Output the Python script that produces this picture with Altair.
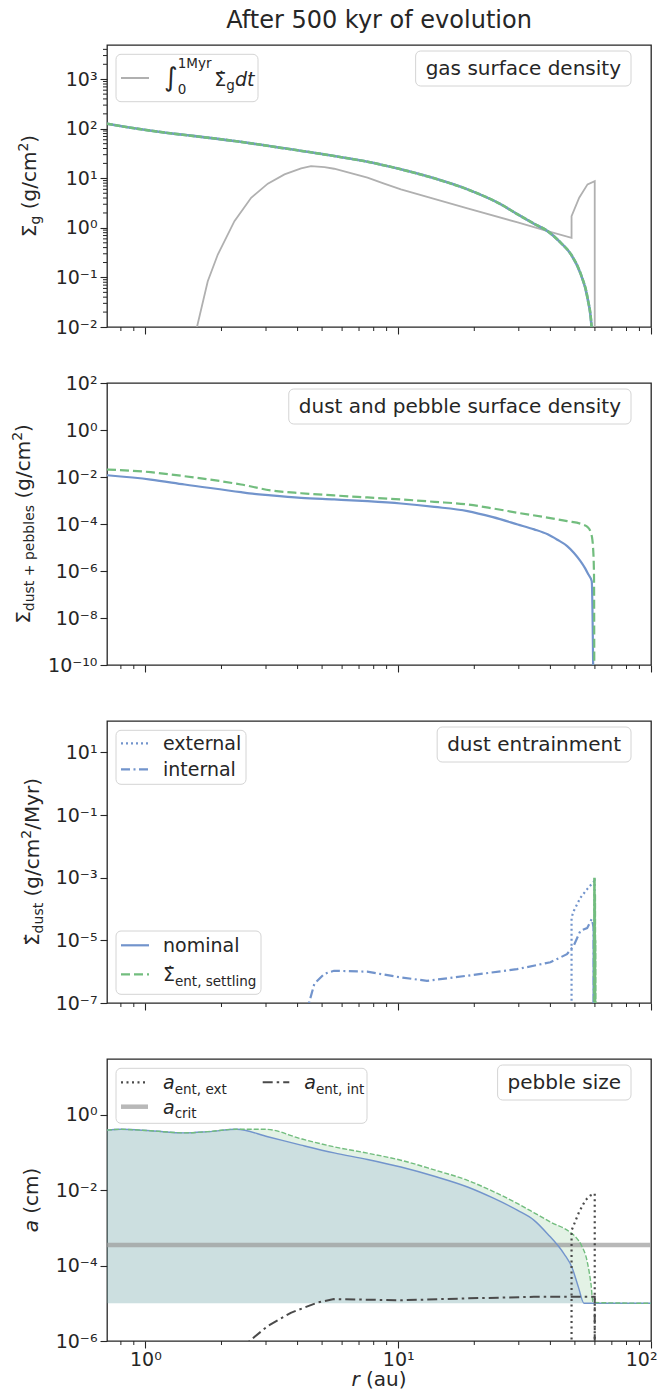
import math
import altair as alt
import pandas as pd

FONT = "DejaVu Sans"
DARK = "#262626"
BLUE = "#7294cc"
GREEN = "#72bd7e"
GREY = "#b0b0b0"
CRIT = "#9a9a9a"
ENT = "#4a4a4a"
W, H = 544, 282
R_DOMAIN = [0.705, 100.0]

# ---------------- data ----------------
# panel 1: gas surface density (g/cm^2)
gas_r = [0.705, 0.905, 1.226, 1.47, 2.25, 3.55, 5.58, 7.56, 10.25, 13.9, 18.8, 25.5,
         29.7, 34.5, 39.0, 44.0, 48.3, 52.8, 56.1, 58.2, 59.5]
gas_sigma = [126.8, 102.3, 82.2, 73.8, 56.6, 40.3, 28.2, 21.6, 15.2, 9.98, 5.98, 2.98,
             1.87, 1.21, 0.859, 0.499, 0.290, 0.115, 0.0385, 0.0100, 1e-4]
int_r = [1.5, 1.6, 1.765, 1.934, 2.25, 2.62, 3.05, 3.55, 4.13, 4.52, 5.11, 5.58, 7.56,
         8.8, 10.25, 18.8, 29.7, 39.0, 48.5, 48.5, 52.0, 56.1, 59.9, 59.9]
int_sigma = [1e-3, 0.010, 0.084, 0.29, 1.37, 4.05, 7.8, 12.0, 15.9, 17.7, 16.9, 15.6, 10.3,
             7.8, 6.0, 2.47, 1.29, 0.86, 0.63, 1.73, 4.05, 7.55, 8.8, 1e-4]

# panel 2: dust + pebble surface density
dust_r = [0.705, 1.05, 1.43, 2.39, 2.58, 3.14, 4.13, 5.58, 7.56, 10.25, 13.9, 18.8, 23.7,
          29.7, 34.5, 39.0, 42.6, 46.6, 49.5, 52.6, 54.9, 56.5, 58.3, 59.3]
dust_nom = [1.19e-2, 7.8e-3, 4.8e-3, 2.26e-3, 2.0e-3, 1.64e-3, 1.3e-3, 1.107e-3, 9.33e-4,
            7.46e-4, 5.37e-4, 3.55e-4, 1.95e-4, 9.55e-5, 5.89e-5, 3.63e-5, 2.14e-5,
            1.15e-5, 6.0e-6, 2.63e-6, 1.29e-6, 7.2e-7, 3.7e-7, 1e-12]
dust_set_r = [0.705, 1.05, 1.43, 2.39, 3.14, 4.13, 5.58, 7.56, 10.25, 13.9, 18.8, 23.7,
              29.7, 37.3, 46.6, 53.6, 56.5, 57.8, 58.6, 59.0, 59.5, 59.7]
dust_set = [2.09e-2, 1.6e-2, 1.08e-2, 4.8e-3, 2.7e-3, 2.04e-3, 1.64e-3, 1.35e-3, 1.11e-3,
            8.8e-4, 6.8e-4, 4.6e-4, 2.99e-4, 2.02e-4, 1.32e-4, 9.6e-5, 6.9e-5, 4.3e-5,
            2.2e-5, 9.8e-6, 7.2e-7, 1e-12]

# panel 3: dust entrainment rate
ent_int_r = [4.3, 4.66, 5.1, 5.57, 7.54, 10.2, 13.0, 18.7, 29.5, 40.0, 46.5, 49.5, 52.6,
             55.9, 58.3, 59.3, 59.5]
ent_int = [4e-8, 4.1e-7, 8.5e-7, 1.07e-6, 1.0e-6, 6.6e-7, 5.1e-7, 7.4e-7, 1.2e-6, 2.0e-6,
           3.6e-6, 6.8e-6, 2.04e-5, 2.45e-5, 4.8e-5, 2.6e-5, 1e-9]
ent_ext_r = [48.5, 48.5, 49.5, 52.6, 55.9, 59.0, 59.8, 59.8]
ent_ext = [1e-9, 5.4e-5, 8.7e-5, 2.3e-4, 4.3e-4, 7.1e-4, 7.9e-4, 1e-9]
ent_set_r = [59.6, 59.75, 59.85, 59.95, 60.05, 60.15, 60.3]
ent_set = [1e-9, 1.0e-3, 1e-6, 3e-4, 1e-7, 1e-5, 1e-9]
ent_nom_r = [59.2, 59.35, 59.5]
ent_nom = [1e-9, 3.5e-5, 1e-9]

# panel 4: pebble size (cm)
amax_nom_r = [0.705, 0.80, 1.05, 1.43, 1.765, 2.3, 3.05, 4.13, 5.58, 7.56, 10.25, 13.9,
              18.8, 23.7, 29.7, 34.5, 39.0, 45.3, 48.7, 51.7, 54.3, 100.0]
amax_nom = [0.39, 0.41, 0.375, 0.33, 0.355, 0.41, 0.26, 0.156, 9.7e-2, 6.5e-2, 4.1e-2,
            2.33e-2, 1.21e-2, 6.2e-3, 2.9e-3, 1.58e-3, 6.9e-4, 2.04e-4, 8.9e-5, 2.6e-5,
            1e-5, 1e-5]
amax_set_r = [0.705, 0.80, 1.05, 1.43, 1.765, 2.25, 3.0, 4.13, 5.58, 7.56, 10.25, 13.9,
              18.8, 23.7, 29.7, 34.5, 40.2, 47.9, 50.5, 53.0, 55.9, 57.9, 59.0, 100.0]
amax_set = [0.39, 0.41, 0.375, 0.33, 0.355, 0.41, 0.41, 0.23, 0.1406, 0.0955, 0.0622,
            0.0344, 0.01824, 9.3e-3, 4.37e-3, 2.51e-3, 1.41e-3, 7.66e-4, 5.6e-4, 3.5e-4,
            1.3e-4, 3.2e-5, 1.05e-5, 1e-5]
a_min = 1e-5
a_crit = 3.5e-4
aint_r = [2.45, 2.58, 3.05, 3.76, 4.8, 5.57, 10.2, 18.7, 34.4, 53.6, 59.9, 59.9]
aint = [4e-7, 1e-6, 2.5e-6, 5.6e-6, 1.05e-5, 1.29e-5, 1.2e-5, 1.35e-5, 1.48e-5, 1.48e-5,
        1.48e-5, 1e-8]
aext_r = [48.5, 48.5, 51.9, 55.0, 57.6, 59.9, 59.9]
aext = [1e-8, 8.5e-4, 2.6e-3, 5.4e-3, 7.2e-3, 8.1e-3, 1e-8]

# ticks
x_major = [1, 10, 100]
x_minor = [0.8, 0.9, 2, 3, 4, 5, 6, 7, 8, 9, 20, 30, 40, 50, 60, 70, 80, 90]
p1_ticks = [1e-2, 1e-1, 1e0, 1e1, 1e2, 1e3]
p1_minor = [2e-2, 3e-2, 4e-2, 5e-2, 6e-2, 7e-2, 8e-2, 9e-2,
            0.2, 0.3, 0.4, 0.5, 0.6, 0.7, 0.8, 0.9,
            2, 3, 4, 5, 6, 7, 8, 9,
            20, 30, 40, 50, 60, 70, 80, 90,
            200, 300, 400, 500, 600, 700, 800, 900,
            2000, 3000, 4000]
p2_ticks = [1e-10, 1e-8, 1e-6, 1e-4, 1e-2, 1e0, 1e2]
p3_ticks = [1e-7, 1e-5, 1e-3, 1e-1, 1e1]
p4_ticks = [1e-6, 1e-4, 1e-2, 1e0]
P1_DOM = [1e-2, 4900]
P2_DOM = [1e-10, 1e2]
P3_DOM = [1e-7, 1e2]
P4_DOM = [1e-6, 30]

# ---------------- helpers ----------------
ONE = pd.DataFrame({"k": [0]})
SUP = {"-": "\u207b", "0": "\u2070", "1": "\u00b9", "2": "\u00b2", "3": "\u00b3",
       "4": "\u2074", "5": "\u2075", "6": "\u2076", "7": "\u2077", "8": "\u2078", "9": "\u2079"}


def sup(n):
    return "".join(SUP[c] for c in str(n))


def label_expr(ticks):
    parts = []
    for t in ticks:
        e = int(round(math.log10(t)))
        parts.append(f"round(log(datum.value)/LN10) == {e} ? '10{sup(e)}'")
    return " : ".join(parts) + " : ''"


def xenc(bottom):
    return alt.X("r:Q", scale=alt.Scale(type="log", domain=R_DOMAIN, nice=False),
                 axis=alt.Axis(values=x_major, labels=bottom, labelExpr=label_expr(x_major),
                               title=None, grid=False, domain=False, tickSize=7,
                               tickColor=DARK, tickWidth=1.1, labelFont=FONT,
                               labelFontSize=19, labelColor=DARK, labelPadding=2,
                               labelFlush=True, labelFlushOffset=6))


def yenc(dom, ticks):
    return alt.Y("v:Q", scale=alt.Scale(type="log", domain=dom, nice=False),
                 axis=alt.Axis(values=ticks, labelExpr=label_expr(ticks), title=None,
                               grid=False, domain=False, tickSize=7, tickColor=DARK,
                               tickWidth=1.1, labelFont=FONT, labelFontSize=19,
                               labelColor=DARK, labelPadding=3))


ADV = {" ": 0.318, "(": 0.390, ")": 0.390, "/": 0.337, "+": 0.838, ",": 0.318,
       "a": 0.613, "b": 0.635, "c": 0.550, "d": 0.635, "e": 0.615, "f": 0.352,
       "g": 0.635, "h": 0.634, "i": 0.278, "k": 0.579, "l": 0.278, "m": 0.974,
       "n": 0.634, "o": 0.612, "p": 0.635, "r": 0.411, "s": 0.521, "t": 0.392,
       "u": 0.634, "v": 0.592, "x": 0.592, "y": 0.592, "z": 0.525, "M": 0.863,
       "A": 0.684, "\u03a3": 0.632, "\u222b": 0.52, "\u0307": 0.0}


def tw(s, size):
    return sum(ADV.get(c, 0.636) for c in s) * size


class Panel:
    def __init__(self, dom, ticks, bottom=False):
        self.dom, self.ticks, self.bottom = dom, ticks, bottom
        self.layers = []

    def line(self, r, v, color, width, dash=None, opacity=1.0, smooth=False):
        df = pd.DataFrame({"r": r, "v": v, "i": list(range(len(r)))})
        kw = dict(color=color, strokeWidth=width, clip=True, opacity=opacity)
        if dash:
            kw["strokeDash"] = dash
        if smooth:
            kw["interpolate"] = "monotone"
        self.layers.append(alt.Chart(df).mark_line(**kw).encode(
            x=xenc(self.bottom), y=yenc(self.dom, self.ticks), order=alt.Order("i:Q")))

    def area(self, r, v, base, color, opacity):
        df = pd.DataFrame({"r": r, "v": v})
        self.layers.append(alt.Chart(df).mark_area(
            color=color, opacity=opacity, clip=True, interpolate="monotone").encode(
            x=xenc(self.bottom), y=yenc(self.dom, self.ticks), y2=alt.datum(base)))

    def xminor(self):
        df = pd.DataFrame({"r": x_minor})
        self.layers.append(alt.Chart(df).mark_rule(color=DARK, strokeWidth=1.0).encode(
            x=xenc(self.bottom), y=alt.value(H), y2=alt.value(H + 4)))

    def yminor(self, vals):
        df = pd.DataFrame({"v": vals})
        self.layers.append(alt.Chart(df).mark_rule(color=DARK, strokeWidth=1.0).encode(
            y=yenc(self.dom, self.ticks), x=alt.value(-4), x2=alt.value(0)))

    def text(self, s, x, y, size, align="left", angle=0, style="normal", color=DARK):
        self.layers.append(alt.Chart(ONE).mark_text(
            text=s, font=FONT, fontSize=size, align=align, baseline="alphabetic",
            angle=angle, fontStyle=style, color=color).encode(x=alt.value(x), y=alt.value(y)))

    def hrun(self, pieces, x, base_y):
        for t, s, d, st in pieces:
            body = t.strip(" ")
            lead = tw(t[:len(t) - len(t.lstrip(" "))], s)
            if body:
                self.text(body, x + lead, base_y + d, s, style=st)
            x += tw(t, s)

    def vrun(self, pieces, base_x, center_y):
        total = sum(tw(t, s) for t, s, d, st in pieces)
        y = center_y + total / 2
        for t, s, d, st in pieces:
            body = t.strip(" ")
            lead = tw(t[:len(t) - len(t.lstrip(" "))], s)
            if body:
                self.text(body, base_x + d, y - lead, s, angle=270, style=st)
            y -= tw(t, s)

    def box(self, x1, y1, x2, y2):
        self.layers.append(alt.Chart(ONE).mark_rect(
            fill="white", fillOpacity=0.8, stroke="#d4d4d4", strokeWidth=1,
            cornerRadius=5).encode(x=alt.value(x1), x2=alt.value(x2),
                                   y=alt.value(y1), y2=alt.value(y2)))

    def sample(self, x1, x2, y, color, width, dash=None, opacity=1.0):
        kw = dict(color=color, strokeWidth=width, opacity=opacity)
        if dash:
            kw["strokeDash"] = dash
        self.layers.append(alt.Chart(ONE).mark_rule(**kw).encode(
            x=alt.value(x1), x2=alt.value(x2), y=alt.value(y)))

    def tag(self, s):
        w = tw(s, 20)
        self.box(514 - w - 10, 6, 524, 41)
        self.text(s, 514, 29.5, 20, align="right")

    def chart(self):
        return alt.layer(*self.layers).properties(width=W, height=H)


SIG = "\u03a3"
SIGDOT = "\u03a3\u0307"

# ---------------- panel 1 ----------------
p1 = Panel(P1_DOM, p1_ticks)
p1.line(int_r, int_sigma, GREY, 1.8)
p1.line(gas_r, gas_sigma, BLUE, 2.6, smooth=True)
p1.line(gas_r, gas_sigma, GREEN, 2.6, dash=[6, 1.5], smooth=True)
p1.xminor()
p1.yminor(p1_minor)
p1.box(9, 9.3, 151, 56.7)
p1.sample(14, 42, 33, GREY, 2)
p1.text("\u222b", 57, 41, 26)
p1.text("1Myr", 70.7, 22.7, 13.5)
p1.text("0", 70.7, 49.3, 13.5)
p1.hrun([(SIGDOT, 19, 0, "normal"), ("g", 13.5, 4, "normal"), ("dt", 19, 0, "italic")], 107.3, 41)
p1.tag("gas surface density")
p1.vrun([(SIG, 20, 0, "normal"), ("g", 14, 4, "normal"), (" (g/cm", 20, 0, "normal"),
         ("2", 14, -8, "normal"), (")", 20, 0, "normal")], -71, H / 2)
p1.text("After 500 kyr of evolution", 272, -17, 24, align="center")
p1.layers.append(alt.Chart(ONE).mark_rule(strokeOpacity=0, color="white").encode(
    x=alt.value(-98), y=alt.value(0), y2=alt.value(10)))

# ---------------- panel 2 ----------------
p2 = Panel(P2_DOM, p2_ticks)
p2.line(dust_r, dust_nom, BLUE, 2.2, smooth=True)
p2.line(dust_set_r, dust_set, GREEN, 2.2, dash=[9, 4], smooth=True)
p2.xminor()
p2.tag("dust and pebble surface density")
p2.vrun([(SIG, 20, 0, "normal"), ("dust + pebbles", 14, 4, "normal"), (" (g/cm", 20, 0, "normal"),
         ("2", 14, -8, "normal"), (")", 20, 0, "normal")], -77, H / 2)

# ---------------- panel 3 ----------------
p3 = Panel(P3_DOM, p3_ticks)
p3.line(ent_int_r, ent_int, BLUE, 2.2, dash=[9, 3.5, 2, 3.5])
p3.line(ent_ext_r, ent_ext, BLUE, 2.2, dash=[2, 3])
p3.line(ent_nom_r, ent_nom, BLUE, 2.2)
p3.line(ent_set_r, ent_set, GREEN, 2.6, dash=[6, 2])
p3.xminor()
p3.box(9, 9.3, 139, 63.3)
p3.sample(14, 42, 22.3, BLUE, 2.2, dash=[2, 3])
p3.text("external", 56, 29.3, 19)
p3.sample(14, 42, 48.3, BLUE, 2.2, dash=[9, 3.5, 2, 3.5])
p3.text("internal", 56, 55.3, 19)
p3.box(9, 210, 154, 273.3)
p3.sample(14, 42, 224.3, BLUE, 2.2)
p3.text("nominal", 56, 231.3, 19)
p3.sample(14, 42, 253.3, GREEN, 2.2, dash=[9, 4])
p3.hrun([(SIGDOT, 19, 0, "normal"), ("ent, settling", 13.5, 4.5, "normal")], 56, 260)
p3.tag("dust entrainment")
p3.vrun([(SIGDOT, 20, 0, "normal"), ("dust", 14, 4, "normal"), (" (g/cm", 20, 0, "normal"),
         ("2", 14, -8, "normal"), ("/Myr)", 20, 0, "normal")], -68, H / 2)

# ---------------- panel 4 ----------------
p4 = Panel(P4_DOM, p4_ticks, bottom=True)
p4.area(amax_set_r, amax_set, a_min, GREEN, 0.2)
p4.area(amax_nom_r, amax_nom, a_min, BLUE, 0.2)
p4.line([R_DOMAIN[0], R_DOMAIN[1]], [a_crit, a_crit], CRIT, 4.5, opacity=0.7)
p4.line(amax_nom_r, amax_nom, BLUE, 1.4, smooth=True)
p4.line(amax_set_r, amax_set, GREEN, 1.4, dash=[5, 2], smooth=True)
p4.line(aint_r, aint, ENT, 2.0, dash=[10, 4, 2.5, 4])
p4.line(aext_r, aext, ENT, 2.2, dash=[2, 3.5])
p4.xminor()
p4.box(9, 9.3, 260, 64.3)
p4.sample(14, 41, 23.3, ENT, 2.2, dash=[2, 3.5])
p4.hrun([("a", 19, 0, "italic"), ("ent, ext", 13.5, 4.2, "normal")], 56, 30.3)
p4.sample(14, 41, 47.7, CRIT, 4.5, opacity=0.7)
p4.hrun([("a", 19, 0, "italic"), ("crit", 13.5, 4.2, "normal")], 56, 54.7)
p4.sample(155.7, 182.3, 23.3, ENT, 2.0, dash=[10, 4, 2.5, 4])
p4.hrun([("a", 19, 0, "italic"), ("ent, int", 13.5, 4.2, "normal")], 197.3, 30.3)
p4.tag("pebble size")
p4.vrun([("a", 20, 0, "italic"), (" (cm)", 20, 0, "normal")], -69, H / 2)
p4.hrun([("r", 20, 0, "italic"), (" (au)", 20, 0, "normal")], 272 - tw("r (au)", 20) / 2, H + 45)

chart = alt.vconcat(p1.chart(), p2.chart(), p3.chart(), p4.chart(),
                    spacing=56, bounds="flush").properties(
    padding={"left": 0, "top": 0, "right": 0, "bottom": 0}
).configure_view(stroke=DARK, strokeWidth=1.3)

chart.save("out.html", embed_options={"renderer": "svg", "actions": False})
